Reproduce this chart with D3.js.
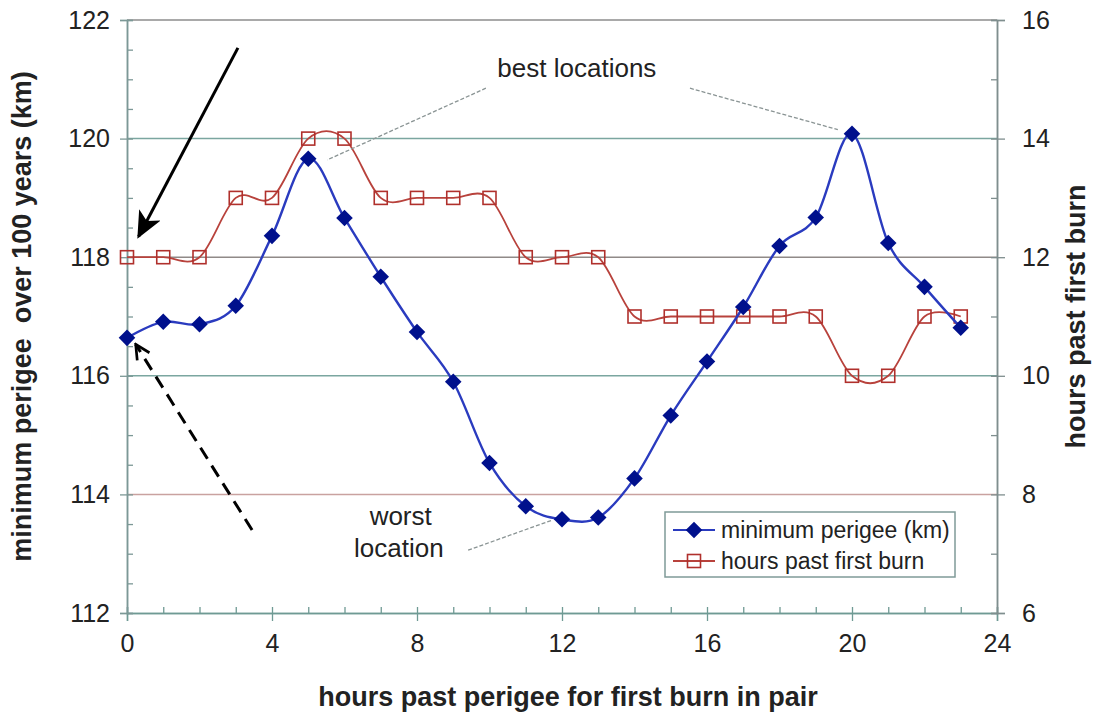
<!DOCTYPE html>
<html>
<head>
<meta charset="utf-8">
<script src="https://cdn.jsdelivr.net/npm/d3@7"></script>
<style>
  body { margin: 0; background: #fff; }
  text { font-family: "Liberation Sans", Arial, sans-serif; fill: #222; }
  .tick text { font-size: 25px; }
  .title { font-size: 27px; font-weight: bold; white-space: pre; }
</style>
</head>
<body>
<svg id="chart" width="1094" height="717"></svg>
<script>
// hours past perigee for the first burn
const hours = d3.range(0, 24);
// minimum perigee over 100 years (km)
const perigee = [116.64, 116.91, 116.87, 117.18, 118.36, 119.66, 118.66, 117.67,
  116.74, 115.90, 114.53, 113.80, 113.58, 113.61, 114.27, 115.33,
  116.24, 117.16, 118.19, 118.67, 120.08, 118.24, 117.50, 116.81];
// hours past first burn (right axis)
const pastBurn = [12, 12, 12, 13, 13, 14, 14, 13, 13, 13, 13, 12,
  12, 12, 11, 11, 11, 11, 11, 11, 10, 10, 11, 11];

const xTicks = [0, 4, 8, 12, 16, 20, 24];
const yLeftTicks = [112, 114, 116, 118, 120, 122];
const yRightTicks = [6, 8, 10, 12, 14, 16];

const margin = { top: 20, right: 97, bottom: 104, left: 127 };
const width = 1094, height = 717;

const svg = d3.select('#chart');

const x = d3.scaleLinear().domain([0, 24]).range([margin.left, width - margin.right]);
const yL = d3.scaleLinear().domain([112, 122]).range([height - margin.bottom, margin.top]);
const yR = d3.scaleLinear().domain([6, 16]).range([height - margin.bottom, margin.top]);

// horizontal grid (colours drift a little, as in the scanned figure)
const gridColor = { 122: '#8c8c8c', 120: '#7ba6a0', 118: '#908a88', 116: '#7ba6a0', 114: '#c9a2a0' };
svg.append('g')
  .selectAll('line')
  .data([114, 116, 118, 120, 122])
  .join('line')
  .attr('x1', x(0)).attr('x2', x(24))
  .attr('y1', d => yL(d)).attr('y2', d => yL(d))
  .attr('stroke', d => gridColor[d])
  .attr('stroke-width', 1.5);

// axes: major ticks outside with labels, minor ticks inside
function styleAxis(g, color) {
  g.select('.domain').attr('stroke', color).attr('stroke-width', 1.5);
  g.selectAll('.tick line').attr('stroke', color).attr('stroke-width', 1.3);
}

svg.append('g').attr('transform', `translate(0,${yL(112)})`)
  .call(d3.axisBottom(x).tickValues(d3.range(0, 25)).tickSize(-6).tickFormat(''))
  .call(g => styleAxis(g, '#6f9a94'));
svg.append('g').attr('transform', `translate(0,${yL(112)})`)
  .call(d3.axisBottom(x).tickValues(xTicks).tickSize(8).tickPadding(13))
  .call(g => styleAxis(g, '#6f9a94'));

svg.append('g').attr('transform', `translate(${x(0)},0)`)
  .call(d3.axisLeft(yL).tickValues(d3.range(112, 122.01, 0.5)).tickSize(-6).tickFormat(''))
  .call(g => styleAxis(g, '#7c9896'));
svg.append('g').attr('transform', `translate(${x(0)},0)`)
  .call(d3.axisLeft(yL).tickValues(yLeftTicks).tickSize(7).tickPadding(10))
  .call(g => styleAxis(g, '#7c9896'));

svg.append('g').attr('transform', `translate(${x(24)},0)`)
  .call(d3.axisRight(yR).tickValues(d3.range(6, 16.01, 1)).tickSize(-6).tickFormat(''))
  .call(g => styleAxis(g, '#7f8e8e'));
svg.append('g').attr('transform', `translate(${x(24)},0)`)
  .call(d3.axisRight(yR).tickValues(yRightTicks).tickSize(8).tickPadding(17))
  .call(g => styleAxis(g, '#7f8e8e'));

svg.selectAll('.tick text').attr('fill', '#222');

// titles
svg.append('text').attr('class', 'title')
  .attr('x', (x(0) + x(24)) / 2 + 6).attr('y', 706)
  .attr('text-anchor', 'middle')
  .text('hours past perigee for first burn in pair');
svg.append('text').attr('class', 'title')
  .attr('transform', `translate(31,${(yL(112) + yL(122)) / 2}) rotate(-90)`)
  .attr('text-anchor', 'middle')
  .text('minimum perigee  over 100 years (km)');
svg.append('text').attr('class', 'title')
  .attr('transform', `translate(1085,${(yL(112) + yL(122)) / 2}) rotate(-90)`)
  .attr('text-anchor', 'middle')
  .text('hours past first burn');

// series
const smooth = d3.curveCardinal.tension(0);
const redLine = '#b8423c', redMark = '#b0302c';
const blueLine = '#2a3bbf', blueMark = '#00108c';

svg.append('path')
  .datum(hours)
  .attr('fill', 'none').attr('stroke', redLine).attr('stroke-width', 1.8)
  .attr('d', d3.line().x(d => x(d)).y(d => yR(pastBurn[d])).curve(smooth));
svg.append('g').selectAll('rect')
  .data(hours)
  .join('rect')
  .attr('x', d => x(d) - 6.5).attr('y', d => yR(pastBurn[d]) - 6.5)
  .attr('width', 13).attr('height', 13)
  .attr('fill', 'none').attr('stroke', redMark).attr('stroke-width', 1.6);

svg.append('path')
  .datum(hours)
  .attr('fill', 'none').attr('stroke', blueLine).attr('stroke-width', 2.4)
  .attr('d', d3.line().x(d => x(d)).y(d => yL(perigee[d])).curve(smooth));
const diamond = d3.symbol().type(d3.symbolDiamond2).size(175);
svg.append('g').selectAll('path')
  .data(hours)
  .join('path')
  .attr('transform', d => `translate(${x(d)},${yL(perigee[d])})`)
  .attr('d', diamond)
  .attr('fill', blueMark);

// annotations
const defs = svg.append('defs');
defs.append('marker').attr('id', 'solidHead')
  .attr('viewBox', '0 0 10 10').attr('refX', 9).attr('refY', 5)
  .attr('markerWidth', 9).attr('markerHeight', 9).attr('markerUnits', 'strokeWidth')
  .attr('orient', 'auto')
  .append('path').attr('d', 'M0,0.5 L10,5 L0,9.5 L2.5,5 Z').attr('fill', '#000');
defs.append('marker').attr('id', 'openHead')
  .attr('viewBox', '0 0 10 10').attr('refX', 9).attr('refY', 5)
  .attr('markerWidth', 6).attr('markerHeight', 6).attr('markerUnits', 'strokeWidth')
  .attr('orient', 'auto')
  .append('path').attr('d', 'M1,1 L9,5 L1,9').attr('fill', 'none')
  .attr('stroke', '#000').attr('stroke-width', 1.5);

svg.append('line')
  .attr('x1', x(3.06)).attr('y1', yL(121.53))
  .attr('x2', x(0.32)).attr('y2', yL(118.35))
  .attr('stroke', '#000').attr('stroke-width', 3)
  .attr('marker-end', 'url(#solidHead)');
svg.append('line')
  .attr('x1', x(3.45)).attr('y1', yL(113.40))
  .attr('x2', x(0.24)).attr('y2', yL(116.53))
  .attr('stroke', '#000').attr('stroke-width', 3)
  .attr('stroke-dasharray', '13,8')
  .attr('marker-end', 'url(#openHead)');

const leaders = [
  [9.9, 120.85, 5.52, 119.64],
  [15.53, 120.85, 19.61, 120.15],
  [9.41, 113.06, 11.75, 113.57],
];
svg.append('g').selectAll('line')
  .data(leaders)
  .join('line')
  .attr('x1', d => x(d[0])).attr('y1', d => yL(d[1]))
  .attr('x2', d => x(d[2])).attr('y2', d => yL(d[3]))
  .attr('stroke', '#8a9494').attr('stroke-width', 1.3)
  .attr('stroke-dasharray', '4,2');

svg.append('text')
  .attr('x', x(12.41)).attr('y', yL(121.19) + 9)
  .attr('text-anchor', 'middle').attr('font-size', 26)
  .text('best locations');
svg.append('text')
  .attr('x', x(7.55)).attr('y', yL(113.64) + 9)
  .attr('text-anchor', 'middle').attr('font-size', 26)
  .text('worst');
svg.append('text')
  .attr('x', x(7.5)).attr('y', yL(113.10) + 9)
  .attr('text-anchor', 'middle').attr('font-size', 26)
  .text('location');

// legend
const legend = svg.append('g').attr('transform', 'translate(665,512)');
legend.append('rect')
  .attr('width', 290).attr('height', 65)
  .attr('fill', '#fff').attr('stroke', '#7f9a98').attr('stroke-width', 1.5);
const items = [
  { label: 'minimum perigee (km)', line: blueLine, mark: 'diamond' },
  { label: 'hours past first burn', line: redLine, mark: 'square' },
];
items.forEach((it, i) => {
  const cy = 18 + i * 31;
  legend.append('line').attr('x1', 8).attr('x2', 50).attr('y1', cy).attr('y2', cy)
    .attr('stroke', it.line).attr('stroke-width', 1.8);
  if (it.mark === 'diamond') {
    legend.append('path').attr('transform', `translate(29,${cy})`)
      .attr('d', diamond).attr('fill', blueMark);
  } else {
    legend.append('rect').attr('x', 22.5).attr('y', cy - 6.5).attr('width', 13).attr('height', 13)
      .attr('fill', 'none').attr('stroke', redMark).attr('stroke-width', 1.6);
  }
  legend.append('text').attr('x', 56).attr('y', cy + 8)
    .attr('font-size', 23).text(it.label);
});
</script>
</body>
</html>
